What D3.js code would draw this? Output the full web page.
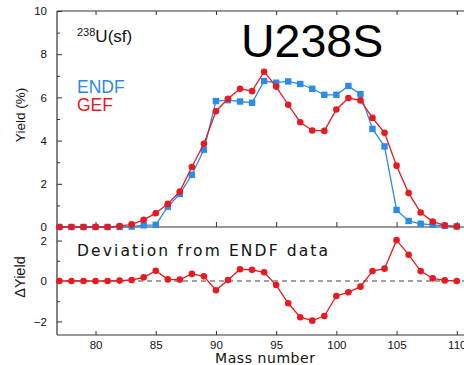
<!DOCTYPE html>
<html>
<head>
<meta charset="utf-8">
<script src="https://cdn.jsdelivr.net/npm/d3@7"></script>
<style>
  html, body { margin: 0; padding: 0; background: #fff; }
  svg { display: block; }
  text { font-family: "Liberation Sans", Arial, sans-serif; }
</style>
</head>
<body>
<script>
// Mass numbers of the fission fragments
const massNumbers = d3.range(77, 111);

// Independent fission yields (%) for 238U spontaneous fission
const endfYield = [0, 0, 0, 0, 0, 0, 0.02, 0.08, 0.1, 0.94, 1.53, 2.42, 3.58, 5.83,
  5.87, 5.81, 5.75, 6.76, 6.68, 6.74, 6.62, 6.4, 6.12, 6.12, 6.53, 6.15, 4.54,
  3.73, 0.79, 0.28, 0.15, 0.1, 0.05, 0.03];
const gefYield = [0, 0, 0, 0, 0, 0.04, 0.12, 0.33, 0.64, 1.07, 1.64, 2.78, 3.85, 5.36,
  5.94, 6.4, 6.29, 7.19, 6.5, 5.66, 4.85, 4.47, 4.45, 5.44, 5.97, 5.86, 5.05,
  4.36, 2.84, 1.57, 0.67, 0.25, 0.08, 0.02];

// GEF minus ENDF
const deltaYield = [0, 0, 0, 0, 0, 0.02, 0.05, 0.18, 0.51, 0.08, 0.07, 0.35, 0.23, -0.46,
  0.05, 0.58, 0.55, 0.43, -0.2, -1.1, -1.79, -1.96, -1.73, -0.74, -0.56, -0.28,
  0.49, 0.61, 2.02, 1.3, 0.49, 0.13, 0.03, 0];

const xTicks = [80, 85, 90, 95, 100, 105, 110];
const yTicksTop = [0, 2, 4, 6, 8, 10];
const yMinorTop = [1, 3, 5, 7, 9];
const yTicksBottom = [-2, 0, 2];
const yMinorBottom = [-1, 1];

const W = 464, H = 365;
const blue = "#2b8be8", red = "#e8191f", axisCol = "#333";

const svg = d3.select("body").append("svg").attr("width", W).attr("height", H);

const left = 57, right = 464;
const x = d3.scaleLinear().domain([76.8, 110.6]).range([left, right]);
const yTop = d3.scaleLinear().domain([0, 10]).range([227, 11]);
const yBot = d3.scaleLinear().domain([-2.67, 2.62]).range([335, 228]);

function tickFmt(g, size) {
  g.select(".domain").remove();
  g.selectAll(".tick line").attr("stroke", axisCol);
  g.selectAll(".tick text").attr("fill", "#111").attr("font-size", size);
}

// ---- frames ----
const frame = svg.append("g").attr("stroke", axisCol).attr("stroke-width", 1.2).attr("fill", "none");
frame.append("line").attr("x1", left).attr("x2", right).attr("y1", yTop(10)).attr("y2", yTop(10));
frame.append("line").attr("x1", left).attr("x2", right).attr("y1", yTop(0)).attr("y2", yTop(0));
frame.append("line").attr("x1", left).attr("x2", left).attr("y1", yTop(10)).attr("y2", yBot.range()[0]);
frame.append("line").attr("x1", left).attr("x2", right).attr("y1", yBot.range()[0]).attr("y2", yBot.range()[0]);

// ---- top panel axes ----
svg.append("g").attr("transform", `translate(${left},0)`)
  .call(d3.axisLeft(yTop).tickValues(yTicksTop).tickSize(-5).tickPadding(10).tickFormat(d3.format("d")))
  .call(g => tickFmt(g, 11.5));
svg.append("g").attr("transform", `translate(${left},0)`)
  .call(d3.axisLeft(yTop).tickValues(yMinorTop).tickSize(-3).tickFormat(""))
  .call(g => tickFmt(g, 0));
svg.append("g").attr("transform", `translate(0,${yTop(10)})`)
  .call(d3.axisTop(x).tickValues(xTicks).tickSize(-4).tickFormat(""))
  .call(g => tickFmt(g, 0));
svg.append("g").attr("transform", `translate(0,${yTop(0)})`)
  .call(d3.axisBottom(x).tickValues(xTicks).tickSize(-5).tickFormat(""))
  .call(g => tickFmt(g, 0));

// ---- bottom panel axes ----
svg.append("g").attr("transform", `translate(${left},0)`)
  .call(d3.axisLeft(yBot).tickValues(yTicksBottom).tickSize(-5).tickPadding(10).tickFormat(d3.format("d")))
  .call(g => tickFmt(g, 11.5));
svg.append("g").attr("transform", `translate(${left},0)`)
  .call(d3.axisLeft(yBot).tickValues(yMinorBottom).tickSize(-3).tickFormat(""))
  .call(g => tickFmt(g, 0));
svg.append("g").attr("transform", `translate(0,${yBot.range()[0]})`)
  .call(d3.axisBottom(x).tickValues(xTicks).tickSize(-4).tickPadding(6).tickFormat(d3.format("d")))
  .call(g => tickFmt(g, 11.5));

// dashed zero line
svg.append("line")
  .attr("x1", left).attr("x2", right).attr("y1", yBot(0)).attr("y2", yBot(0))
  .attr("stroke", "#444").attr("stroke-width", 1).attr("stroke-dasharray", "5,4");

// ---- series ----
function drawLine(vals, yS, color) {
  const pts = massNumbers.map((m, i) => [m, vals[i]]);
  svg.append("path").datum(pts)
    .attr("fill", "none").attr("stroke", color).attr("stroke-width", 1.3)
    .attr("d", d3.line().x(d => x(d[0])).y(d => yS(d[1])));
  return pts;
}

const endfPts = drawLine(endfYield, yTop, blue);
svg.append("g").selectAll("rect").data(endfPts).join("rect")
  .attr("x", d => x(d[0]) - 3.2).attr("y", d => yTop(d[1]) - 3.2)
  .attr("width", 6.4).attr("height", 6.4).attr("fill", blue);

const gefPts = drawLine(gefYield, yTop, red);
svg.append("g").selectAll("circle").data(gefPts).join("circle")
  .attr("cx", d => x(d[0])).attr("cy", d => yTop(d[1])).attr("r", 3.3).attr("fill", red);

const dPts = drawLine(deltaYield, yBot, red);
svg.append("g").selectAll("circle").data(dPts).join("circle")
  .attr("cx", d => x(d[0])).attr("cy", d => yBot(d[1])).attr("r", 3.3).attr("fill", red);

// ---- text ----
svg.append("text").attr("x", 241).attr("y", 57).attr("font-size", 46.5).attr("fill", "#000").text("U238S");

const iso = svg.append("text").attr("x", 77).attr("y", 42).attr("font-size", 17).attr("fill", "#111");
iso.append("tspan").attr("font-size", 11).attr("dy", -6).text("238");
iso.append("tspan").attr("dy", 6).text("U(sf)");

svg.append("text").attr("x", 77).attr("y", 93).attr("font-size", 17.5).attr("fill", blue).text("ENDF");
svg.append("text").attr("x", 77).attr("y", 111).attr("font-size", 17.5).attr("fill", red).text("GEF");

svg.append("text").attr("x", 77).attr("y", 256).attr("font-size", 15.5)
  .style("font-family", "'DejaVu Sans', Verdana, sans-serif")
  .attr("textLength", 251).attr("lengthAdjust", "spacing").attr("fill", "#111")
  .text("Deviation from ENDF data");

svg.append("text").attr("x", 215).attr("y", 363)
  .style("font-family", "'DejaVu Sans', Verdana, sans-serif")
  .attr("font-size", 14).attr("textLength", 100).attr("lengthAdjust", "spacing")
  .attr("fill", "#111").text("Mass number");

svg.append("text").attr("transform", "translate(25,115) rotate(-90)")
  .attr("text-anchor", "middle").attr("font-size", 13.5).attr("fill", "#111").text("Yield (%)");
svg.append("text").attr("transform", "translate(25,277) rotate(-90)")
  .attr("text-anchor", "middle").attr("font-size", 14.5).attr("fill", "#111").text("\u0394Yield");
</script>
</body>
</html>
